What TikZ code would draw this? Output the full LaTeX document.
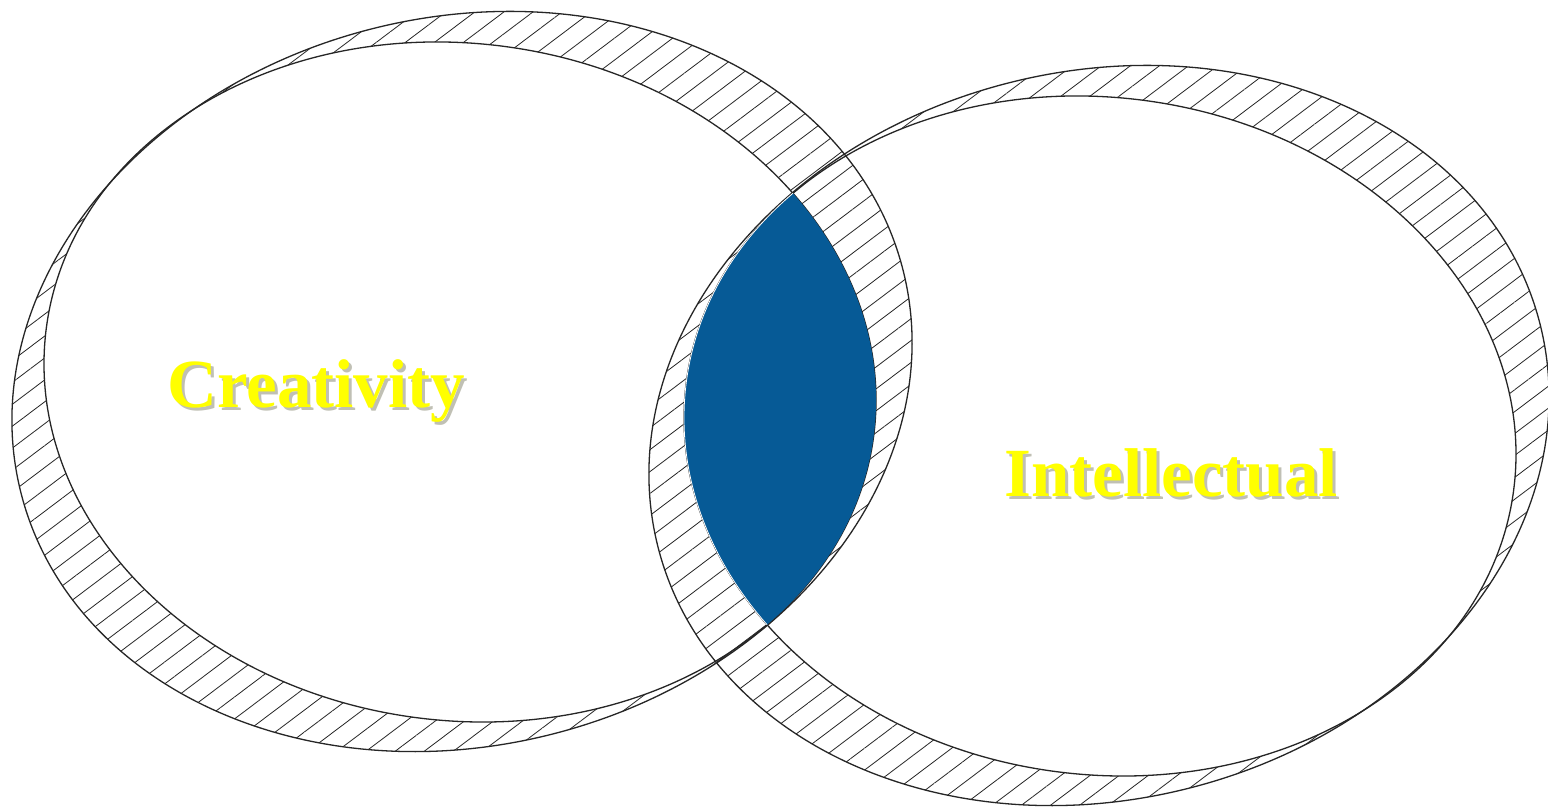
\documentclass[tikz,border=0pt]{standalone}
\usepackage{fontspec}
\setmainfont{Liberation Serif}
\usetikzlibrary{patterns.meta}
\definecolor{lensblue}{RGB}{6,90,150}
\definecolor{txtyellow}{RGB}{255,255,0}
\definecolor{shadowgray}{RGB}{150,150,130}
\tikzset{
  hatchring/.style={even odd rule, pattern={Lines[angle=37,distance=17.5pt,line width=0.8pt]}, pattern color=black!85},
  ringline/.style={draw=black!85, line width=1.3pt},
  labeltext/.style={font=\fontsize{69}{80}\selectfont\bfseries, text=txtyellow, anchor=base, inner sep=0pt},
  shadowtext/.style={font=\fontsize{69}{80}\selectfont\bfseries, text=shadowgray, opacity=0.6, anchor=base, inner sep=0pt},
  outerell/.style={x radius=454.9pt, y radius=364pt, rotate=14.1},
  innerell/.style={x radius=417.2pt, y radius=338.5pt, rotate=-7.5}
}
\begin{document}
\begin{tikzpicture}[x=1pt,y=1pt]
\fill[white] (0,0) rectangle (1548,808);
\useasboundingbox (0,0) rectangle (1548,808);
% centers
\coordinate (LO) at (462,426.5);
\coordinate (LI) at (460,426);
\coordinate (RO) at (1099,372.5);
\coordinate (RI) at (1100,372);
% hatched rings
\path[hatchring] (LO) ellipse [outerell] (LI) ellipse [innerell];
\path[hatchring] (RO) ellipse [outerell] (RI) ellipse [innerell];
% outlines
\draw[ringline] (LO) ellipse [outerell];
\draw[ringline] (LI) ellipse [innerell];
\draw[ringline] (RO) ellipse [outerell];
\draw[ringline] (RI) ellipse [innerell];
% lens
\begin{scope}
\clip (LI) ellipse [innerell];
\fill[lensblue, draw=white, line width=0.8pt] (RI) ellipse [innerell];
\end{scope}
% labels
\node[shadowtext] (creatshadow) at (319,397) {Creativity};
\node[labeltext] (creat) at (316,400) {Creativity};
\node[shadowtext] (intelshadow) at (1174,308) {Intellectual};
\node[labeltext] (intel) at (1171,311) {Intellectual};
\end{tikzpicture}
\end{document}
